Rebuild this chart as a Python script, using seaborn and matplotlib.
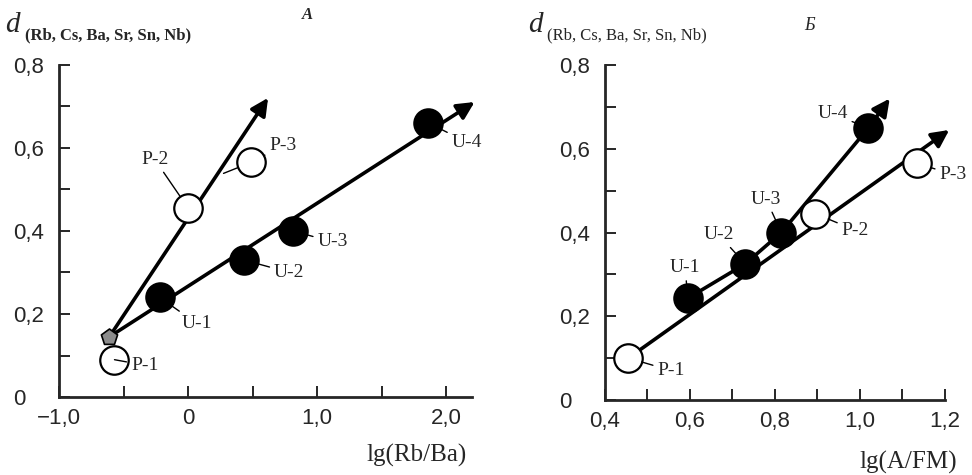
import matplotlib
matplotlib.use("Agg")
import matplotlib.pyplot as plt
import matplotlib.ticker as mticker
import seaborn as sns
import pandas as pd

# ---- data ----
# panel A: lg(Rb/Ba)
a_U_labels = ["U-1", "U-2", "U-3", "U-4"]
a_U_x = [-0.22, 0.43, 0.81, 1.86]
a_U_y = [0.24, 0.33, 0.40, 0.66]
a_P_labels = ["P-1", "P-2", "P-3"]
a_P_x = [-0.57, 0.0, 0.49]
a_P_y = [0.09, 0.455, 0.565]
a_origin_x = [-0.61]
a_origin_y = [0.145]
a_trend_start = [(-0.61, 0.145), (-0.61, 0.145)]
a_trend_end = [(0.62, 0.72), (2.22, 0.71)]

# panel B: lg(A/FM)
b_U_labels = ["U-1", "U-2", "U-3", "U-4"]
b_U_x = [0.595, 0.73, 0.815, 1.02]
b_U_y = [0.243, 0.325, 0.40, 0.65]
b_P_labels = ["P-1", "P-2", "P-3"]
b_P_x = [0.455, 0.895, 1.135]
b_P_y = [0.10, 0.445, 0.565]
b_trend_start = [(1.02, 0.65), (0.455, 0.10)]
b_trend_end = [(1.07, 0.72), (1.21, 0.645)]

sns.set_style("ticks")
plt.rcParams["font.family"] = ["Liberation Sans", "DejaVu Sans"]
SERIF = ["Liberation Serif", "DejaVu Serif"]

fig = plt.figure(figsize=(9.72, 4.75), dpi=100)
fig.patch.set_facecolor("white")

# label offsets in points (text position relative to the point)
a_offsets = {"U-1": (16, -19, "left"), "U-2": (22, -9, "left"),
             "U-3": (18, -8, "left"), "U-4": (17, -14, "left"),
             "P-1": (12, -4, "left"), "P-2": (-24, 35, "center"),
             "P-3": (13, 12, "left")}
b_offsets = {"U-1": (-2, 22, "center"), "U-2": (-19, 21, "center"),
             "U-3": (-11, 24, "center"), "U-4": (-26, 10, "center"),
             "P-1": (21, -9, "left"), "P-2": (19, -12, "left"),
             "P-3": (16, -8, "left")}


def fmt(v, pos=None):
    if abs(v) < 1e-9:
        return "0"
    return f"{v:.1f}".replace(".", ",").replace("-", "\u2212")


def style_axes(ax, xlim, xmajor, xminor):
    ax.set_xlim(*xlim)
    ax.set_ylim(0, 0.8)
    sns.despine(ax=ax)
    for s in ("left", "bottom"):
        ax.spines[s].set_linewidth(2.0)
    ax.xaxis.set_major_locator(mticker.MultipleLocator(xmajor))
    ax.xaxis.set_minor_locator(mticker.MultipleLocator(xminor))
    ax.yaxis.set_major_locator(mticker.MultipleLocator(0.2))
    ax.yaxis.set_minor_locator(mticker.MultipleLocator(0.1))
    ax.xaxis.set_major_formatter(mticker.FuncFormatter(fmt))
    ax.yaxis.set_major_formatter(mticker.FuncFormatter(fmt))
    ax.tick_params(which="both", direction="in", length=8, width=1.4)
    ax.tick_params(axis="x", labelsize=16, pad=8)
    ax.tick_params(axis="y", labelsize=16, pad=33)
    plt.setp(ax.get_yticklabels(), ha="left")
    ax.set_xlabel("")
    ax.set_ylabel("")


def draw_panel(ax, U_x, U_y, U_lab, P_x, P_y, P_lab, starts, ends, offsets):
    for (x0, y0), (x1, y1) in zip(starts, ends):
        ax.annotate("", xy=(x1, y1), xytext=(x0, y0),
                    arrowprops=dict(arrowstyle="-|>", lw=2.6, color="black",
                                    mutation_scale=26, shrinkA=0, shrinkB=0),
                    annotation_clip=False, zorder=2)
    sns.scatterplot(x=U_x, y=U_y, ax=ax, s=420, color="black",
                    edgecolor="black", linewidth=1.5, zorder=4, clip_on=False)
    sns.scatterplot(x=P_x, y=P_y, ax=ax, s=420, color="white",
                    edgecolor="black", linewidth=1.6, zorder=4, clip_on=False)
    for lab, x, y in list(zip(U_lab, U_x, U_y)) + list(zip(P_lab, P_x, P_y)):
        dx, dy, ha = offsets[lab]
        ax.annotate(lab, xy=(x, y), xytext=(dx, dy), textcoords="offset points",
                    ha=ha, va="center", fontsize=14, family=SERIF,
                    arrowprops=dict(arrowstyle="-", lw=1.0, color="black",
                                    shrinkA=1, shrinkB=10),
                    zorder=5)


# ---- panel A ----
axA = fig.add_axes([0.0607, 0.164, 0.4249, 0.7])
draw_panel(axA, a_U_x, a_U_y, a_U_labels, a_P_x, a_P_y, a_P_labels,
           a_trend_start, a_trend_end, a_offsets)
# short tie from P-3 back to its trend line
axA.annotate("", xy=(a_P_x[2], a_P_y[2]), xytext=(-20, -8),
             textcoords="offset points",
             arrowprops=dict(arrowstyle="-", lw=1.0, color="black",
                             shrinkA=0, shrinkB=10))
sns.scatterplot(x=a_origin_x, y=a_origin_y, ax=axA, marker="p", s=150,
                color="#8c8c8c", edgecolor="black", linewidth=1.2, zorder=3)
style_axes(axA, (-1.0, 2.2), 1.0, 0.5)

# ---- panel B ----
axB = fig.add_axes([0.6224, 0.158, 0.3498, 0.705])
sns.lineplot(x=b_U_x, y=b_U_y, ax=axB, sort=False, color="black", lw=2.6,
             zorder=2)
draw_panel(axB, b_U_x, b_U_y, b_U_labels, b_P_x, b_P_y, b_P_labels,
           b_trend_start, b_trend_end, b_offsets)
style_axes(axB, (0.4, 1.2), 0.2, 0.1)

# ---- text ----
for xd, xs, bold in ((5, 25, "bold"), (528, 547, "normal")):
    fig.text(xd / 972, 1 - 32 / 475, "d", family=SERIF, style="italic",
             fontsize=21, ha="left", va="baseline")
    fig.text(xs / 972, 1 - 39 / 475, "(Rb, Cs, Ba, Sr, Sn, Nb)", family=SERIF,
             fontsize=12, weight=bold, ha="left", va="baseline")
fig.text(307 / 972, 1 - 15 / 475, "\u0410", family=SERIF, style="italic",
         weight="bold", fontsize=12, ha="center", va="center")
fig.text(810 / 972, 1 - 26 / 475, "\u0411", family=SERIF, style="italic",
         fontsize=13, ha="center", va="center")
fig.text(467 / 972, 1 - 455 / 475, "lg(Rb/Ba)", family=SERIF, fontsize=18,
         ha="right", va="center")
fig.text(957 / 972, 1 - 462 / 475, "lg(A/FM)", family=SERIF, fontsize=18,
         ha="right", va="center")

fig.savefig("out.png", dpi=100, facecolor="white")
